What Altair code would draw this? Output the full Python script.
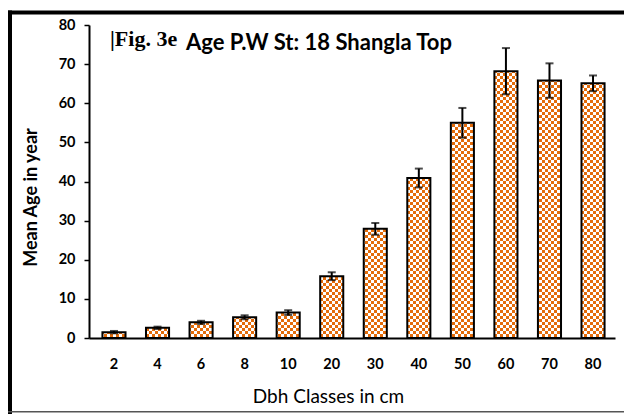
import altair as alt
import pandas as pd
import jinja2
from altair.utils.html import TEMPLATES

# ---------------- data ----------------
dbh_classes = ["2", "4", "6", "8", "10", "20", "30", "40", "50", "60", "70", "80"]
mean_age = [1.5, 2.6, 4.0, 5.3, 6.5, 15.8, 27.9, 40.9, 55.0, 68.2, 65.8, 65.1]
age_err = [0.3, 0.3, 0.4, 0.5, 0.6, 1.0, 1.5, 2.4, 3.8, 5.9, 4.4, 2.0]
y_ticks = [0, 10, 20, 30, 40, 50, 60, 70, 80]
fig_label = "|Fig. 3e"
fig_title = "Age P.W St: 18 Shangla Top"

df = pd.DataFrame({"dbh": dbh_classes, "age": mean_age, "err": age_err})
df["lo"] = df["age"] - df["err"]
df["hi"] = df["age"] + df["err"]

ORANGE = "#E46C0A"
W, H = 526, 313

x_scale = alt.Scale(paddingInner=0.47, paddingOuter=0.274, align=0.563)
y_scale = alt.Scale(domain=[0, 80], nice=False)

x_axis = alt.Axis(title="Dbh Classes in cm", labelAngle=0, ticks=False)
y_axis = alt.Axis(title="Mean Age in year", values=y_ticks, grid=False)


def X():
    return alt.X("dbh:N", sort=dbh_classes, scale=x_scale, axis=x_axis)


bars = (
    alt.Chart(df)
    .mark_bar(fill=f"url(#chk) {ORANGE}", stroke="black", strokeWidth=2)
    .encode(x=X(), y=alt.Y("age:Q", scale=y_scale, axis=y_axis))
)

err_rule = (
    alt.Chart(df)
    .mark_rule(color="black", strokeWidth=2)
    .encode(x=X(), y=alt.Y("lo:Q", scale=y_scale, axis=y_axis), y2="hi:Q")
)
cap_hi = (
    alt.Chart(df)
    .mark_tick(color="black", thickness=2, size=8)
    .encode(x=X(), y=alt.Y("hi:Q", scale=y_scale, axis=y_axis))
)
cap_lo = (
    alt.Chart(df)
    .mark_tick(color="black", thickness=2, size=8)
    .encode(x=X(), y=alt.Y("lo:Q", scale=y_scale, axis=y_axis))
)

one = pd.DataFrame({"k": [0]})
t1 = (
    alt.Chart(one)
    .mark_text(align="left", baseline="alphabetic", font="Liberation Serif",
               fontWeight="bold", fontSize=22, color="black")
    .encode(x=alt.value(21), y=alt.value(21), text=alt.value(fig_label))
)
t2 = (
    alt.Chart(one)
    .mark_text(align="left", baseline="alphabetic", font="Lato",
               fontWeight="bold", fontSize=22, color="black")
    .encode(x=alt.value(97), y=alt.value(24.5), text=alt.value(fig_title))
)

# outer frame of the figure
frame_left = alt.Chart(one).mark_rect(color="black").encode(
    x=alt.value(-81), x2=alt.value(-77), y=alt.value(-14.5), y2=alt.value(389))
frame_top = alt.Chart(one).mark_rect(color="black").encode(
    x=alt.value(-81), x2=alt.value(545), y=alt.value(-14.5), y2=alt.value(-10.5))
frame_bottom = alt.Chart(one).mark_rect(color="#555555").encode(
    x=alt.value(-81), x2=alt.value(545), y=alt.value(386), y2=alt.value(387.5))

chart = (
    alt.layer(bars, err_rule, cap_hi, cap_lo, t1, t2, frame_left, frame_top, frame_bottom)
    .properties(
        width=W,
        height=H,
        autosize=alt.AutoSizeParams(type="none"),
        padding={"left": 81, "top": 17, "right": 17, "bottom": 76},
        background="white",
    )
    .configure_view(stroke=None)
    .configure_axis(
        domainColor="black",
        domainWidth=2,
        tickColor="black",
        tickWidth=1.5,
        tickSize=5,
        labelFont="Lato",
        labelFontWeight="bold",
        labelFontSize=14.5,
        labelColor="black",
        labelOverlap=False,
        titleFont="Lato",
        titleColor="black",
    )
    .configure_axisX(
        labelPadding=19,
        titleFontWeight="normal",
        titleFontSize=19,
        titleX=239,
        titleY=58,
        titleAlign="center",
        titleBaseline="middle",
    )
    .configure_axisY(
        labelPadding=9,
        titleFontWeight="bold",
        titleFontSize=18,
        titleAngle=270,
        titleX=-58,
        titleY=172,
        titleAlign="center",
        titleBaseline="middle",
    )
)

DEFS = (
    '<style>html,body{overflow:hidden} svg{flex-shrink:0 !important; max-width:none !important}</style>'
    '<svg width="0" height="0" style="position:absolute;left:0;top:0">'
    '<defs><pattern id="chk" x="0" y="0" width="6" height="6" patternUnits="userSpaceOnUse">'
    '<rect width="6" height="6" fill="#ffffff"/>'
    f'<rect x="0" y="0" width="3" height="3" fill="{ORANGE}"/>'
    f'<rect x="3" y="3" width="3" height="3" fill="{ORANGE}"/>'
    '</pattern></defs></svg>'
)

_std = TEMPLATES["standard"]


class PatternTemplate(jinja2.Template):
    def render(self, *args, **kwargs):
        html = _std.render(*args, **kwargs)
        if "<body>" in html:
            return html.replace("<body>", "<body>" + DEFS, 1)
        return DEFS + html


chart.save("out.html", embed_options={"renderer": "svg", "actions": False},
           template=PatternTemplate(""))
